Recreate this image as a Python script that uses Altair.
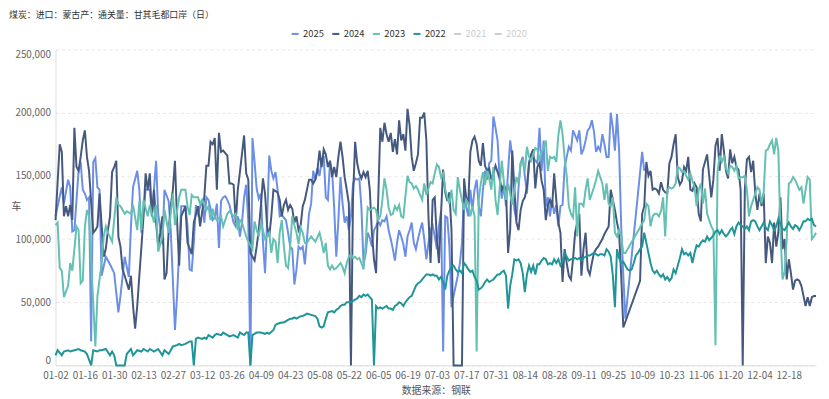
import altair as alt
import pandas as pd

N = None

# x categories: month-day keys of the merged daily calendar (05-01 absent)
_days = pd.date_range("2024-01-02", "2024-12-31", freq="D")
categories = [d.strftime("%m-%d") for d in _days if d.strftime("%m-%d") != "05-01"]

tick_labels = ["01-02", "01-16", "01-30", "02-13", "02-27", "03-12", "03-26", "04-09",
               "04-23", "05-08", "05-22", "06-05", "06-19", "07-03", "07-17", "07-31",
               "08-14", "08-28", "09-11", "09-25", "10-09", "10-23", "11-06", "11-20",
               "12-04", "12-18"]

y_ticks = [0, 50000, 100000, 150000, 200000, 250000]

years = ["2025", "2024", "2023", "2022", "2021", "2020"]
colors = ["#6b8fe6", "#45587e", "#64c0b1", "#1f9597", "#cccccc", "#cccccc"]

# daily values (thousand vehicles), aligned with categories; None = no reading
v2025_k = [
    118, 126, N, 141, 128, N, 147, 141, 106, 107,
    N, 154, 161, 139, 136, 131, 133, 19, 161, 164,
    141, 139, 71, N, 86, N, 80, N, 73, N,
    42, 55, N, 86, N, 70, 110, 141, N, 154,
    139, 105, N, 139, N, 139, 118, N, 162, 120,
    N, 96, 139, N, 130, 107, N, 28, 55, N,
    126, N, 126, 110, 76, 75, 97, 127, 120, N,
    131, 113, 133, 131, 124, 115, 117, 128, 93, 130,
    133, 134, 131, 127, N, 113, 110, 118, 102, 113,
    133, 143, 114, 0, 180, 161, 140, 132, 136, 98,
    73, 115, 166, 154, 148, 153, 139, 118, 119, N,
    115, 105, 94, 92, 64, 76, 94, 92, 94, 80,
    100, 120, 128, 154, 147, 156, 150, 162, 166, 133,
    131, 161, 154, 125, 86, 115, 149, 128, 113, 118,
    107, 118, 144, 148, 147, 148, 125, 81, 88, 105,
    101, 94, 107, 110, 114, 111, 115, 114, 118, 107,
    100, 92, 83, 97, 107, 102, 96, 86, 102, 107,
    113, 97, 92, 100, 107, 113, 100, 84, 97, 107,
    111, 102, 92, 110, 122, 11, 118, 117, 94, 46,
    55, 63, 71, 81, 97, 139, 126, 118, 139, 123,
    139, 147, 126, 118, 139, 154, 147, 160, 162, 197,
    188, 178, 147, 132, 142, 126, 154, 178, 165, 123,
    115, 141, 160, 165, 150, 136, 160, 166, 165, 162,
    160, 188, 154, 178, 126, 133, 118, 131, 120, 127,
    110, 126, 127, 157, 165, 173, 170, 186, 182, 178,
    186, 167, 171, 178, 186, 188, 194, 185, 169, 173,
    170, 183, 175, 165, 165, 200, 188, 170, 199, 170,
    110, 71, 37, N, N, N, N, N, N, N,
    169, 154, N, N, N, N, N, N, N, N,
    N, N, N, N, N, N, N, N, N, N,
    N, N, N, N, N, N, N, N, N, N,
    N, N, N, N, N, N, N, N, N, N,
    N, N, N, N, N, N, N, N, N, N,
    N, N, N, N, N, N, N, N, N, N,
    N, N, N, N, N, N, N, N, N, N,
    N, N, N, N, N, N, N, N, N, N,
    N, N, N, N,
]

v2024_k = [
    115, N, 175, 169, 118, 126, 118, 127, 115, 188,
    157, 154, 165, 178, 186, 165, 154, N, 105, 107,
    110, 136, N, 86, 92, 107, 118, 153, 157, 162,
    102, 94, 76, 71, N, 60, 71, 47, 29, 47,
    71, 94, 118, 152, 139, 152, 118, 139, 113, 94,
    105, 118, 68, 73, 107, 126, 139, 162, 115, 79,
    118, N, 126, 97, N, 88, 113, N, 126, 110,
    N, 133, 158, 158, 177, 175, 180, 139, 184, 169,
    170, N, 166, 144, 144, 143, 113, 139, 153, N,
    182, 152, 147, 89, N, 83, 94, 107, 126, 148,
    136, 110, 102, 118, 139, N, 137, 131, 118, 127,
    131, 123, 127, 124, 113, 118, 107, 111, 126, 131,
    N, 147, 147, 144, 147, 154, 170, 157, 171, 167,
    157, 162, 149, 157, 149, 165, 177, 165, 149, 139,
    128, 0, 133, 177, 160, 152, 148, 153, 149, 154,
    139, 105, 84, 73, 130, 188, 177, 192, 183, 177,
    184, 169, 179, 167, 194, 178, 183, 170, 203, 190,
    165, 154, 160, 167, 196, 196, 200, 178, 118, 81,
    131, 133, 100, 81, 120, 155, 137, 130, 137, 107,
    0, 0, 0, 0, 0, 148, 133, 128, 169, 178,
    181, 175, 162, 158, 176, 158, 154, 156, 147, 152,
    158, 153, 148, 139, 143, 139, 89, 107, 170, 140,
    113, 107, 123, 130, 133, 141, 160, 167, 171, 140,
    157, 160, 146, 139, 115, 127, 131, 125, 152, 131,
    113, 105, 66, 92, 81, 71, 68, 84, 105, 113,
    120, 71, 92, 105, 76, 72, 81, 89, 92, 94,
    97, 100, 104, 107, 110, 139, 131, 123, 113, 105,
    71, 30, N, N, N, N, N, N, N, 67,
    120, 126, 161, 150, 154, 139, 140, 139, 136, 145,
    139, 137, 136, 160, 165, 175, 183, 149, 143, 146,
    157, 154, 165, 139, 138, 144, 141, 120, 114, 155,
    161, 167, 150, 133, 147, 174, 180, 154, 183, 170,
    154, 148, 171, 160, 165, 157, 155, 139, 0, 139,
    163, 165, 153, 162, 136, 123, 136, 126, 136, 81,
    102, 97, 81, 113, 94, 105, 133, 92, 100, 68,
    84, 73, 60, 67, 68, 67, 63, 55, 47, 54,
    47, 54, 55, 55,
]

v2023_k = [
    111, 113, 77, 75, 54, N, 63, 81, 75, 92,
    110, 107, 65, 67, 109, 123, 118, N, N, 15,
    55, N, 81, 102, 110, 105, N, 98, N, 133,
    127, 126, N, 120, 122, N, 120, 127, N, 107,
    130, 107, 131, N, 118, 127, N, 113, 127, 90,
    N, 102, 123, N, 105, N, 136, 111, N, 133,
    139, N, 139, 126, 119, 135, 133, N, 133, 128,
    131, N, 123, 126, 115, 124, 117, 115, N, 118,
    110, 115, 120, 122, N, 118, 120, 107, 115, 113,
    N, 102, 98, N, 92, 114, 107, 102, 113, 107,
    100, N, 105, 89, 100, 98, 81, 105, 115, 94,
    79, 77, 94, 118, 111, 105, 96, 109, 105, 97,
    97, N, 102, N, 98, N, 105, 98, 89, 97,
    79, 76, 79, 76, 77, 79, 81, 78, 73, 81,
    86, 88, 85, 86, 84, 85, 81, 76, 95, 125,
    123, 124, 125, 123, 115, 118, 131, 148, 139, 125,
    119, 120, 126, 123, 127, 118, 117, 134, 150, 145,
    144, 140, 142, 139, 135, 131, 144, 135, 140, 145,
    144, 152, 159, 157, 149, 152, 139, 133, 128, 139,
    123, 120, 149, 139, 131, 123, 131, 128, 118, 126,
    118, 11, 131, 144, 153, 143, 154, 148, 139, 157,
    131, 119, 141, 162, 145, 131, 144, 136, 127, 139,
    149, 144, 160, 162, 154, 173, 165, 162, 167, 172,
    171, 162, 169, 172, 178, 154, 165, 164, 165, 161,
    182, 194, 183, 164, 150, 126, 120, 117, 141, 102,
    128, 128, 126, 139, 148, 131, 136, 141, 147, 154,
    149, 144, 131, 144, 128, 126, 133, 105, 102, 107,
    102, 89, 89, N, N, N, N, N, N, N,
    N, 115, 128, 126, 110, 118, 120, 120, 118, 122,
    133, 102, 139, 141, 140, 141, 144, 157, 156, 153,
    154, 150, 147, 152, 146, 141, 126, 139, 144, 128,
    140, 120, 115, 110, 107, 16, 154, 166, 161, 165,
    156, 152, 158, 157, 154, 158, 148, 149, 149, 150,
    139, 118, 126, 131, 136, 141, 139, 128, 137, 170,
    171, 175, 178, 167, 180, 170, 107, 68, 74, 100,
    144, 145, 149, 147, 143, 139, 141, 128, 139, 149,
    147, 100, 102, 105,
]

v2022_k = [
    8, 12, N, 8, 11, N, 12, 11, N, 12,
    N, 13, 12, N, 11, 9, N, 0, 12, N,
    11, 12, 12, N, 13, N, 8, 11, 8, 0,
    0, 0, 0, 0, 9, N, 13, 8, N, 12,
    N, 11, 13, N, 11, 13, N, 11, N, 13,
    N, 8, 12, N, 9, N, 15, N, 16, 17,
    16, N, 17, N, 19, 19, 0, 21, 22, N,
    21, 22, 21, 24, N, 22, 24, 25, N, 24,
    26, N, 24, 23, N, 24, N, 22, 26, N,
    24, 26, 26, 0, 24, N, 26, N, 26, N,
    25, 26, 25, N, 28, 32, 33, N, 34, 34,
    N, 36, 37, 37, 38, 37, N, 39, 39, 40,
    41, N, 40, N, 39, 37, 31, 30, 31, 37,
    42, N, 43, 42, 44, 45, 47, 48, 48, 50,
    N, 50, 51, 52, 53, 55, 54, 56, 55, 56,
    54, 52, 0, 47, 45, 46, 45, N, 47, 45,
    45, 44, 47, 48, 50, 49, 47, 50, 52, 54,
    55, 59, 63, 65, 66, 68, 70, 72, 72, 71,
    72, 71, 71, 68, 70, 66, 60, 71, 75, 78,
    79, 76, 74, 75, 73, 81, 79, 76, 74, 75,
    70, 67, 60, 61, 63, 66, 68, 66, 67, 68,
    70, 72, 72, 74, 75, 71, 45, 63, 72, 84,
    83, 84, 81, 73, 58, 72, 79, 74, 79, 72,
    80, 80, 83, 85, 84, 80, 81, 80, 84, 81,
    84, 79, 82, 89, 86, 83, 84, 84, 85, 84,
    85, 83, 85, 86, 87, 87, 88, 89, 88, 87,
    88, 88, 87, 92, 90, 86, 71, 46, 92, 85,
    81, 82, 79, 76, 75, 76, 81, 87, 89, 92,
    94, 105, 97, 89, 81, 75, 73, 75, 72, 70,
    72, 68, 70, 67, 69, 76, 73, 79, 85, 92,
    88, 89, 87, 89, 81, 89, 95, 94, 97, 99,
    98, 102, 99, 101, 103, 106, 107, 104, 107, 104,
    102, 104, 107, 109, 104, 110, 113, 111, 110, 108,
    110, 107, 114, 115, 114, 110, 107, 110, 113, 109,
    107, 114, 111, 107, 110, 116, 112, 108, 107, 110,
    113, 110, 108, 111, 110, 107, 110, 114, 114, 116,
    115, 116, 111, 110,
]

series = {"2025": v2025_k, "2024": v2024_k, "2023": v2023_k, "2022": v2022_k}

rows = []
for yr, vals in series.items():
    for cat, v in zip(categories, vals):
        if v is not None:
            rows.append({"date": cat, "year": yr, "value": v * 1000})
df = pd.DataFrame(rows)

FONT = "Noto Sans CJK SC"

chart = (
    alt.Chart(df)
    .mark_line(strokeWidth=2)
    .encode(
        x=alt.X(
            "date:O",
            scale=alt.Scale(domain=categories, padding=0),
            axis=alt.Axis(
                values=tick_labels,
                labelAngle=0,
                ticks=False,
                grid=False,
                domainColor="#dddddd",
                labelColor="#666666",
                labelFontSize=10,
                labelPadding=5,
                title="数据来源：钢联",
                titleFontSize=10,
                titleFontWeight="normal",
                titleColor="#555555",
                titlePadding=5,
            ),
        ),
        y=alt.Y(
            "value:Q",
            scale=alt.Scale(domain=[0, 250000], nice=False),
            axis=alt.Axis(
                values=y_ticks,
                format=",.0f",
                labelFlush=True,
                ticks=False,
                grid=True,
                gridDash=[3, 3],
                gridColor="#e6e6e6",
                domainColor="#dddddd",
                labelColor="#666666",
                labelFontSize=10,
                labelPadding=5,
                title="车",
                titleAngle=0,
                titleAlign="center",
                titleBaseline="middle",
                titleX=-40,
                titleY=159,
                titleFontSize=10,
                titleFontWeight="normal",
                titleColor="#555555",
            ),
        ),
        color=alt.Color(
            "year:N",
            scale=alt.Scale(domain=years, range=colors),
            legend=alt.Legend(
                title=None,
                orient="none",
                legendX=237,
                legendY=-21,
                direction="horizontal",
                symbolType="stroke",
                symbolStrokeWidth=2,
                symbolSize=50,
                labelFontSize=9.5,
                labelColor=alt.ExprRef(
                    "indexof(['2021','2020'], datum.label) >= 0 ? '#cccccc' : '#333333'"
                ),
                columnPadding=3,
                labelOffset=3,
            ),
        ),
    )
    .properties(
        width=768,
        height=319,
        title=alt.TitleParams(
            "煤炭：进口：蒙古产：通关量：甘其毛都口岸（日）",
            anchor="start",
            frame="group",
            fontSize=9,
            fontWeight="normal",
            color="#333333",
            dx=-47,
            dy=-5,
        ),
        padding={"left": 48, "top": 40, "right": 5, "bottom": 32},
        autosize=alt.AutoSizeParams(type="none"),
    )
    .configure(font=FONT)
    .configure_view(stroke=None)
)

chart.save("out.html", embed_options={"renderer": "svg", "actions": False})
